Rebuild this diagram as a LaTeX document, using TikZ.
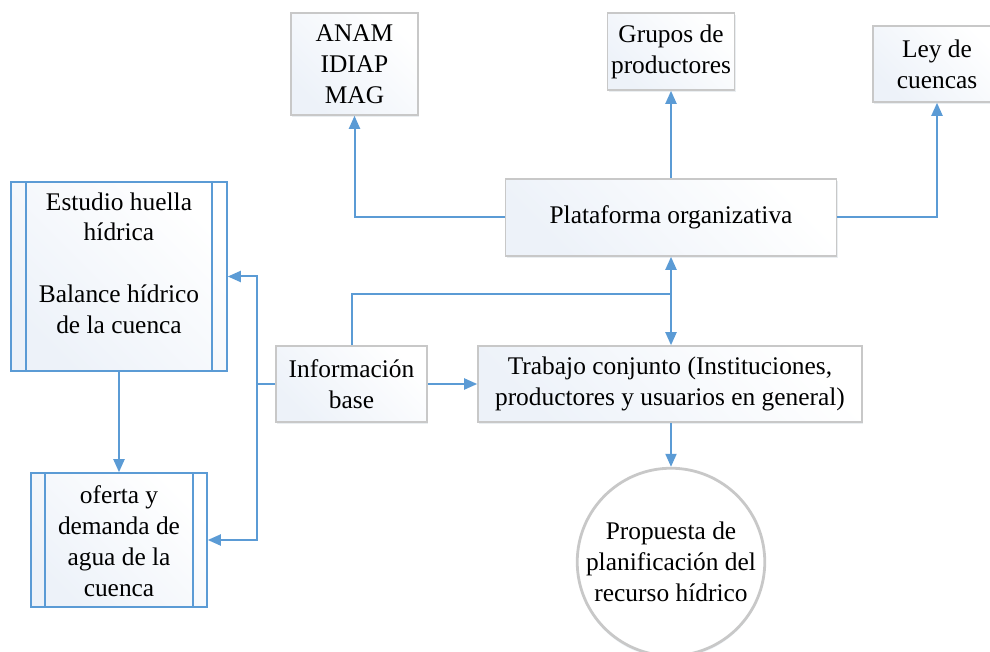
\documentclass[tikz,border=0pt]{standalone}
\usepackage{fontspec}
\setmainfont{LiberationSerif}[Extension=.ttf, UprightFont=*-Regular, BoldFont=*-Bold, ItalicFont=*-Italic, BoldItalicFont=*-BoldItalic]
\usetikzlibrary{arrows.meta,calc,shadows}

\definecolor{linkblue}{HTML}{5B9BD5}
\definecolor{framegray}{HTML}{C8C8C8}
\definecolor{tintblue}{HTML}{EDF2F9}

\tikzset{
  txt/.style={font=\fontsize{12.7}{15.4}\selectfont, align=center},
  plainbox/.style={txt, draw=framegray, line width=0.8pt, inner sep=0pt,
    left color=tintblue, right color=white, shading angle=135,
    drop shadow={opacity=0.15, shadow xshift=0.6pt, shadow yshift=-1pt, fill=linkblue!40!gray}},
  procbox/.style={draw=linkblue, line width=0.8pt, inner sep=0pt,
    left color=tintblue, right color=white, shading angle=135},
  endcircle/.style={txt, circle, draw=framegray, line width=1.4pt, inner sep=0pt,
    fill=white, drop shadow={opacity=0.15, shadow xshift=0pt, shadow yshift=-1.2pt, fill=linkblue!50}},
  link/.style={draw=linkblue, line width=1pt},
  arr/.style={link, -{Triangle[length=6.5pt, width=5.5pt]}}
}

\begin{document}
\begin{tikzpicture}[x=0.5pt, y=-0.5pt]
  \useasboundingbox (0,0) rectangle (990,652);

  % upper row
  \node[plainbox, minimum width=63.5pt, minimum height=51pt] (anam) at (354.5,64) {ANAM\\IDIAP\\MAG};
  \node[plainbox, minimum width=63.5pt, minimum height=38.5pt] (grupos) at (671,51.5) {Grupos de\\productores};
  \node[plainbox, minimum width=64pt, minimum height=38pt] (ley) at (937,64) {Ley de\\cuencas};

  % platform and joint work
  \node[plainbox, minimum width=165.5pt, minimum height=38.5pt] (plat) at (671,217.5) {Plataforma organizativa};
  \node[plainbox, minimum width=192pt, minimum height=38pt] (trab) at (670,384) {Trabajo conjunto (Instituciones,\\productores y usuarios en general)};
  \node[plainbox, minimum width=75.5pt, minimum height=38pt] (info) at (351.5,384) {Información\\base};

  % predefined-process boxes on the left
  \node[procbox, minimum width=108pt, minimum height=94.5pt] (est) at (119,276.5) {};
  \draw[draw=linkblue, line width=0.8pt]
    ($(est.north west)+(16,0)$) -- ($(est.south west)+(16,0)$)
    ($(est.north east)+(-16,0)$) -- ($(est.south east)+(-16,0)$);
  \node[txt] (estt) at (119,263) {Estudio huella\\hídrica\\[15.4pt]Balance hídrico\\de la cuenca};

  \node[procbox, minimum width=88pt, minimum height=67pt] (ofe) at (119,540) {};
  \draw[draw=linkblue, line width=0.8pt]
    ($(ofe.north west)+(15,0)$) -- ($(ofe.south west)+(15,0)$)
    ($(ofe.north east)+(-15,0)$) -- ($(ofe.south east)+(-15,0)$);
  \node[txt] (ofet) at (119,541) {oferta y\\demanda de\\agua de la\\cuenca};

  % final proposal
  \node[endcircle, minimum size=88pt] (circ) at (671,562) {Propuesta de\\planificación del\\recurso hídrico};

  % connectors from the platform
  \draw[arr] (plat.west) -| (anam.south);
  \draw[arr] (plat.north) -- (grupos.south);
  \draw[arr] (plat.east) -| (ley.south);

  % base information feeds platform and joint work
  \coordinate (j) at (671,294);
  \draw[link] (info.north) |- (j);
  \draw[arr] (j) -- (plat.south);
  \draw[arr] (j) -- (j |- trab.north);
  \draw[arr] (info.east) -- (trab.west);

  % base information feeds the studies
  \coordinate (k) at (257,384);
  \draw[link] (info.west) -- (k);
  \draw[arr] (k) |- (est.east);
  \draw[arr] (k) |- (ofe.east);
  \draw[arr] (est.south) -- (ofe.north);

  % joint work leads to the proposal
  \draw[arr] (trab.south -| circ.north) -- (circ.north);
\end{tikzpicture}
\end{document}
